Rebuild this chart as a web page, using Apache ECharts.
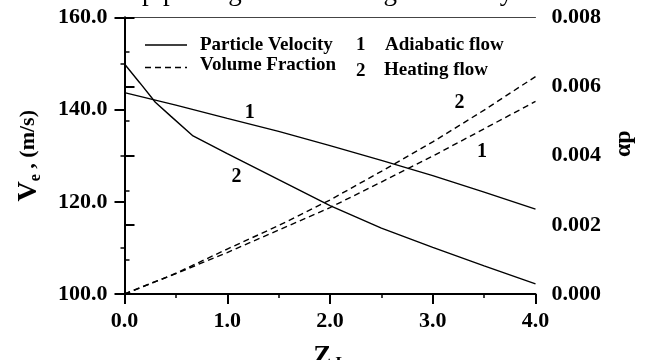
<!DOCTYPE html>
<html>
<head>
<meta charset="utf-8">
<script src="https://cdn.jsdelivr.net/npm/echarts@6/dist/echarts.min.js"></script>
<style>
  html, body { margin: 0; padding: 0; background: #fff; }
  #chart { width: 649px; height: 360px; }
</style>
</head>
<body>
<div id="chart"></div>
<script>
// Distance along the pipe (Z_L)
const zGrid = [0, 0.5, 1, 1.5, 2, 2.5, 3, 3.5, 4];
const zHeating = [0, 0.15, 0.3, 0.45, 0.667, 1, 1.5, 2, 2.5, 3, 3.5, 4];

// Particle velocity Ve (m/s)
const velAdiabatic = [143.7, 141.0, 138.1, 135.3, 132.2, 129.0, 125.7, 122.1, 118.4];
const velHeating = [149.9, 145.8, 141.6, 138.6, 134.3, 130.45, 124.8, 119.2, 114.3, 110.1, 106.1, 102.2];

// Particle volume fraction αp
const fracAdiabatic = [0, 0.00059, 0.0012, 0.00185, 0.0025, 0.00324, 0.00399, 0.00478, 0.00557];
const fracHeating = [0, 0.0006, 0.0013, 0.00198, 0.00272, 0.00355, 0.0044, 0.00532, 0.00629];

// Curve tags: [z, value, text]
const velTags = [[1.22, 139.3, '1'], [1.09, 125.4, '2']];
const fracTags = [[3.26, 0.00553, '2'], [3.48, 0.00411, '1']];

// Axis ranges
const zRange = [0, 4, 1];
const velRange = [100, 160, 20];
const fracRange = [0, 0.008, 0.002];

const SERIF = '"Liberation Serif", "Times New Roman", serif';
const pair = (xs, ys) => xs.map((x, i) => [x, ys[i]]);

const axisLine = { lineStyle: { color: '#000', width: 2 } };
const minorTick = { show: true, splitNumber: 2, length: 4, lineStyle: { color: '#000', width: 1.5 } };
const axisTick = { length: 10, lineStyle: { color: '#000', width: 2 } };
const labelFont = { fontFamily: SERIF, fontWeight: 'bold', fontSize: 22, color: '#000' };

const lineSeries = (name, xs, ys, yIdx, dashed) => ({
  name, type: 'line', yAxisIndex: yIdx, data: pair(xs, ys),
  symbol: 'none', smooth: false,
  lineStyle: { color: '#000', width: 1.4, type: dashed ? [6, 4] : 'solid' }
});

const tagSeries = (tags, yIdx) => ({
  type: 'scatter', yAxisIndex: yIdx, symbolSize: 0,
  itemStyle: { color: '#000', opacity: 1 },
  data: tags.map(t => ({ value: [t[0], t[1]], name: t[2] })),
  label: { show: true, position: [0, 0], align: 'center', verticalAlign: 'middle',
           formatter: p => p.name, textBorderWidth: 0,
           fontFamily: SERIF, fontWeight: 'bold', fontSize: 20, color: '#000' },
  silent: true
});

const legendText = (x, y, text) => ({
  type: 'text', left: x, top: y - 11,
  style: { text, font: 'bold 19px ' + SERIF, fill: '#000' }
});

const chart = echarts.init(document.getElementById('chart'), null, { renderer: 'canvas' });
chart.setOption({
  animation: false,
  backgroundColor: '#fff',
  grid: { left: 124.5, right: 113.5, top: 17.5, bottom: 66, containLabel: false, outerBoundsMode: 'none' },
  xAxis: [{
    type: 'value', min: zRange[0], max: zRange[1], interval: zRange[2],
    axisLine, axisTick, minorTick: { ...minorTick, length: 4 },
    splitLine: { show: false },
    axisLabel: { ...labelFont, margin: 16, formatter: v => v.toFixed(1) },
    name: '{v|Z}{s| L}', nameLocation: 'middle', nameGap: 48,
    nameTextStyle: {
      rich: {
        v: { fontFamily: SERIF, fontWeight: 'bold', fontSize: 27, lineHeight: 30, color: '#000' },
        s: { fontFamily: SERIF, fontWeight: 'bold', fontSize: 17, lineHeight: 20, verticalAlign: 'bottom', color: '#000' }
      }
    }
  }, {
    type: 'value', position: 'top', min: zRange[0], max: zRange[1],
    axisLine: { lineStyle: { color: '#444', width: 1 } },
    axisTick: { show: false }, axisLabel: { show: false }, splitLine: { show: false }
  }],
  yAxis: [{
    type: 'value', position: 'left', min: velRange[0], max: velRange[1], interval: velRange[2],
    axisLine: { show: true, ...axisLine }, axisTick: { show: true, ...axisTick },
    minorTick, splitLine: { show: false },
    axisLabel: { ...labelFont, margin: 17, formatter: v => v.toFixed(1) },
    name: '{v|V}{s|e}{t| , (m/s)}', nameLocation: 'middle', nameRotate: 90, nameGap: 81,
    nameTextStyle: {
      rich: {
        v: { fontFamily: SERIF, fontWeight: 'bold', fontSize: 28, lineHeight: 30, color: '#000' },
        s: { fontFamily: SERIF, fontWeight: 'bold', fontSize: 16, lineHeight: 18, verticalAlign: 'bottom', color: '#000' },
        t: { fontFamily: SERIF, fontWeight: 'bold', fontSize: 22, lineHeight: 30, color: '#000' }
      }
    }
  }, {
    type: 'value', position: 'right', min: fracRange[0], max: fracRange[1], interval: fracRange[2],
    axisLine: { show: true, ...axisLine }, axisTick: { show: true, ...axisTick },
    minorTick: { ...minorTick, length: 5 }, splitLine: { show: false },
    axisLabel: { ...labelFont, margin: 16, formatter: v => v.toFixed(3) },
    name: 'αp', nameLocation: 'middle', nameRotate: 90, nameGap: 72,
    nameTextStyle: { fontFamily: SERIF, fontWeight: 'bold', fontSize: 24, color: '#000', padding: [0, 0, 0, 24] }
  }],
  series: [
    lineSeries('Adiabatic velocity', zGrid, velAdiabatic, 0, false),
    lineSeries('Heating velocity', zHeating, velHeating, 0, false),
    lineSeries('Adiabatic fraction', zGrid, fracAdiabatic, 1, true),
    lineSeries('Heating fraction', zGrid, fracHeating, 1, true),
    tagSeries(velTags, 0),
    tagSeries(fracTags, 1)
  ],
  graphic: [
    // caption line running off the top edge
    { type: 'text', x: 142, y: -7.5,
      style: { text: 'pipe length and outlet gas velocity.', font: '27px ' + SERIF, fill: '#000',
               verticalAlign: 'middle' } },
    // key
    { type: 'line', shape: { x1: 145, y1: 45, x2: 187, y2: 45 }, style: { stroke: '#000', lineWidth: 1.5 } },
    { type: 'line', shape: { x1: 145, y1: 67.5, x2: 187, y2: 67.5 }, style: { stroke: '#000', lineWidth: 1.5, lineDash: [6, 4] } },
    legendText(200, 47, 'Particle Velocity'),
    legendText(200, 67, 'Volume Fraction'),
    legendText(356, 47, '1'),
    legendText(385, 47, 'Adiabatic flow'),
    legendText(356, 73, '2'),
    legendText(384, 72, 'Heating flow')
  ]
});
</script>
</body>
</html>
